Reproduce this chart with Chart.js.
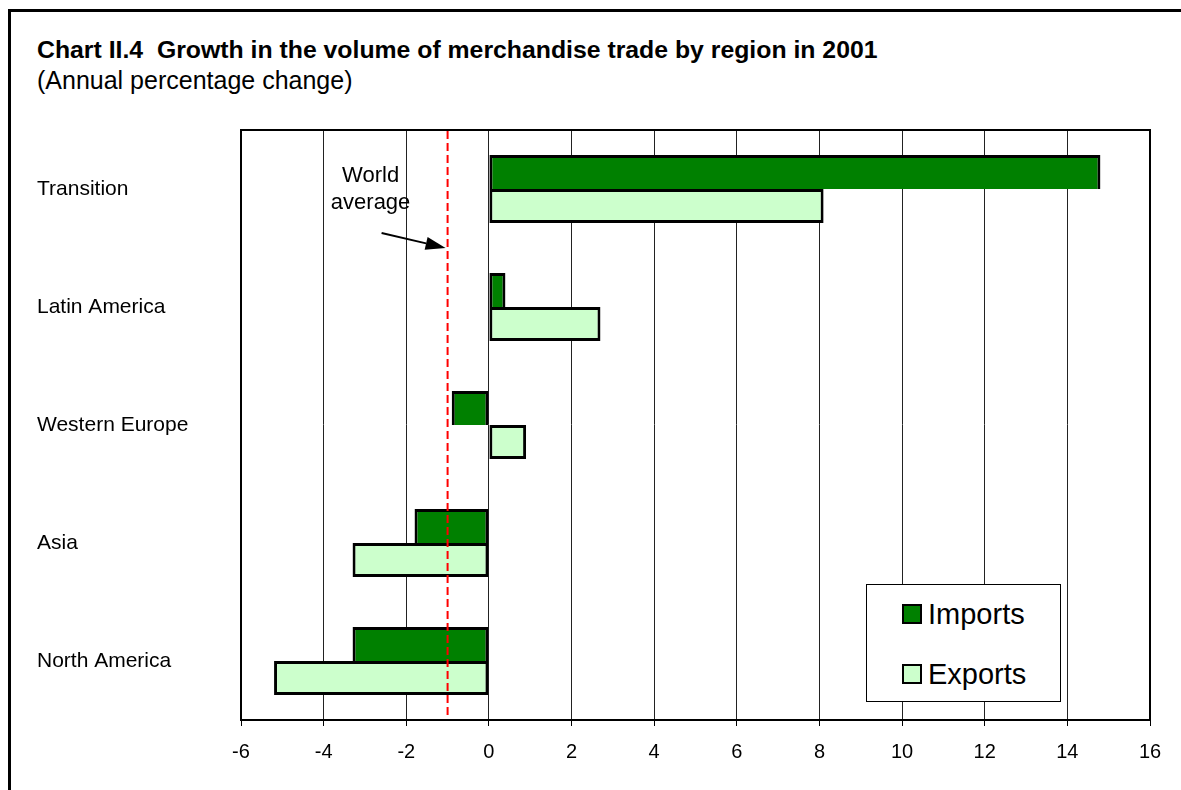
<!DOCTYPE html>
<html>
<head>
<meta charset="utf-8">
<title>Chart II.4 Growth in the volume of merchandise trade by region in 2001</title>
<script src="https://cdn.jsdelivr.net/npm/chart.js@4.4.1/dist/chart.umd.min.js"></script>
<style>
    html, body { margin: 0; padding: 0; background: #fff; overflow: hidden; }
    body { width: 1181px; height: 790px; position: relative; font-family: "Liberation Sans", Arial, Helvetica, sans-serif; color: #000; }
    #frame { position: absolute; left: 8px; top: 9px; width: 1300px; height: 900px; border: 3px solid #000; }
    #chartTitle { position: absolute; left: 37px; top: 37px; font-size: 24.8px; line-height: 25px; font-weight: bold; white-space: pre; }
    #chartSubtitle { position: absolute; left: 37px; top: 68px; font-size: 25px; line-height: 25px; white-space: pre; }
    #tradeChart { position: absolute; left: 0; top: 0; }
    #legendBox { position: absolute; left: 866px; top: 584px; width: 193px; height: 116px; border: 1px solid #000; background: #fff; }
    .legend-item { position: absolute; left: 35px; height: 30px; display: flex; align-items: center; font-size: 29px; white-space: nowrap; }
    .legend-swatch { display: inline-block; width: 20px; height: 20px; box-sizing: border-box; border: 2.5px solid #000; margin-right: 6px; }
</style>
</head>
<body>
<div id="frame"></div>
<div id="chartTitle">Chart II.4  Growth in the volume of merchandise trade by region in 2001</div>
<div id="chartSubtitle">(Annual percentage change)</div>
<canvas id="tradeChart" width="1181" height="790"></canvas>
<div id="legendBox"></div>
<script>
// --- 1. Data ---
const regions = ['Transition', 'Latin America', 'Western Europe', 'Asia', 'North America'];
const importsGrowth = [14.8, 0.4, -0.9, -1.8, -3.3];
const exportsGrowth = [8.1, 2.7, 0.9, -3.3, -5.2];
const xTickValues = [-6, -4, -2, 0, 2, 4, 6, 8, 10, 12, 14, 16];
const worldAverage = -1.0;
const annotationLines = ['World', 'average'];

Chart.defaults.font.family = '"Liberation Sans", Arial, Helvetica, sans-serif';
Chart.defaults.color = '#000';

// --- 2. World average line, arrow and plot frame ---
const worldAveragePlugin = {
    id: 'worldAverage',
    afterDatasetsDraw(chart) {
        const { ctx, chartArea, scales: { x, y } } = chart;
        const xAvg = x.getPixelForValue(worldAverage);
        ctx.save();

        // frame round the plot area
        ctx.strokeStyle = '#000';
        ctx.lineWidth = 2;
        ctx.strokeRect(chartArea.left, chartArea.top, chartArea.right - chartArea.left, chartArea.bottom - chartArea.top);

        // dashed world average line
        ctx.strokeStyle = '#ff0000';
        ctx.lineWidth = 2;
        ctx.setLineDash([8, 4]);
        ctx.beginPath();
        ctx.moveTo(xAvg, chartArea.top + 1);
        ctx.lineTo(xAvg, chartArea.bottom - 4);
        ctx.stroke();
        ctx.setLineDash([]);

        // arrow pointing at the line, between the first two regions
        const tipX = xAvg - 2;
        const tipY = y.getPixelForValue(0.5);
        const startX = tipX - 64;
        const startY = tipY - 15;
        const ang = Math.atan2(tipY - startY, tipX - startX);
        const headLen = 20, headHalf = 6.5;
        const baseX = tipX - headLen * Math.cos(ang);
        const baseY = tipY - headLen * Math.sin(ang);
        ctx.strokeStyle = '#000';
        ctx.fillStyle = '#000';
        ctx.lineWidth = 1.8;
        ctx.beginPath();
        ctx.moveTo(startX, startY);
        ctx.lineTo(baseX, baseY);
        ctx.stroke();
        ctx.beginPath();
        ctx.moveTo(tipX, tipY);
        ctx.lineTo(baseX + headHalf * Math.sin(ang), baseY - headHalf * Math.cos(ang));
        ctx.lineTo(baseX - headHalf * Math.sin(ang), baseY + headHalf * Math.cos(ang));
        ctx.closePath();
        ctx.fill();

        // label
        ctx.font = '22px "Liberation Sans", Arial, Helvetica, sans-serif';
        ctx.textAlign = 'center';
        ctx.textBaseline = 'middle';
        annotationLines.forEach((line, i) => {
            ctx.fillText(line, xAvg - 77, tipY - 72 + i * 27);
        });
        ctx.restore();
    }
};

// --- 3. Chart ---
const ctx = document.getElementById('tradeChart').getContext('2d');
const tradeChart = new Chart(ctx, {
    type: 'bar',
    data: {
        labels: regions,
        datasets: [
            { label: 'Imports', data: importsGrowth, backgroundColor: '#008000', borderColor: '#000', borderWidth: 3, borderSkipped: 'bottom' },
            { label: 'Exports', data: exportsGrowth, backgroundColor: '#ccffcc', borderColor: '#000', borderWidth: 3, borderSkipped: false }
        ]
    },
    options: {
        indexAxis: 'y',
        responsive: false,
        animation: false,
        events: [],
        datasets: { bar: { categoryPercentage: 0.575, barPercentage: 1.0 } },
        layout: { padding: { left: 37, top: 130, right: 31, bottom: 12 } },
        plugins: {
            legend: { display: false },
            tooltip: { enabled: false },
            title: { display: false }
        },
        scales: {
            x: {
                type: 'linear',
                min: xTickValues[0],
                max: xTickValues[xTickValues.length - 1],
                afterBuildTicks: (scale) => { scale.ticks = xTickValues.map(v => ({ value: v })); },
                grid: { color: '#222', lineWidth: 1, drawTicks: true, tickLength: 6, tickColor: '#000' },
                border: { display: true, color: '#000', width: 2 },
                ticks: { padding: 14, font: { size: 20 }, color: '#000', maxRotation: 0 }
            },
            y: {
                type: 'category',
                grid: { display: false },
                border: { display: true, color: '#000', width: 2 },
                ticks: { crossAlign: 'far', padding: 0, font: { size: 21 }, color: '#000' },
                afterFit: (scale) => { scale.width = 204; }
            }
        }
    },
    plugins: [worldAveragePlugin]
});

// --- 4. Legend box ---
const legendBox = document.getElementById('legendBox');
tradeChart.data.datasets.forEach((ds, i) => {
    const item = document.createElement('div');
    item.className = 'legend-item';
    item.style.top = (14 + i * 60) + 'px';
    item.innerHTML = `<span class="legend-swatch" style="background:${ds.backgroundColor}"></span>${ds.label}`;
    legendBox.appendChild(item);
});
</script>
</body>
</html>
